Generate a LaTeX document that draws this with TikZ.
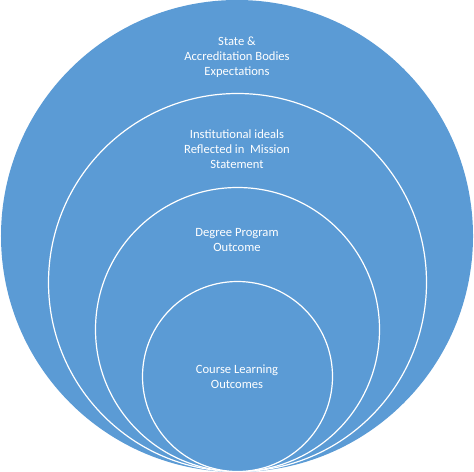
\documentclass[tikz,border=0pt]{standalone}
\usepackage{fontspec}
\setmainfont{Carlito}
\definecolor{ringblue}{HTML}{5B9BD5}
\begin{document}
\begin{tikzpicture}[x=1bp,y=-1bp,
  ring/.style={circle,inner sep=0pt,fill=ringblue,draw=white,line width=1.2bp},
  lbl/.style={text=white,align=center,font=\fontsize{12.6bp}{15bp}\selectfont,inner sep=0pt}]
\useasboundingbox (0,0) rectangle (474,472);
\node[ring,draw=none,minimum size=472bp] (r1) at (237,236) {};
\node[ring,minimum size=378bp] (r2) at (237.5,282.5) {};
\node[ring,minimum size=284bp] (r3) at (237.5,329.5) {};
\node[ring,minimum size=190bp] (r4) at (237.5,376.5) {};
\node[lbl] (t1) at (237,57) {State \&\\Accreditation Bodies\\Expectations};
\node[lbl] (t2) at (237,149) {Institutional ideals\\Reflected in\ \ Mission\\Statement};
\node[lbl] (t3) at (237,240.5) {Degree Program\\Outcome};
\node[lbl] (t4) at (237,376.5) {Course Learning\\Outcomes};
\end{tikzpicture}
\end{document}
